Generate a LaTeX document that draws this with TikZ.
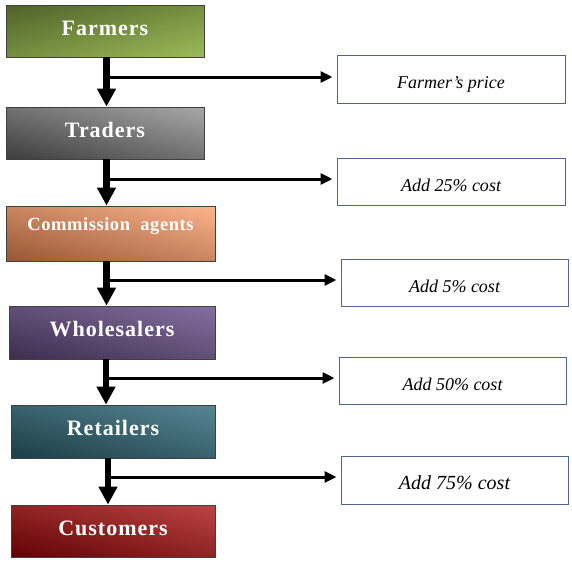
\documentclass[tikz,border=0pt]{standalone}
\usepackage{fontspec}
\setmainfont{Liberation Serif}
\usetikzlibrary{arrows.meta,shadings}
\definecolor{farmD}{HTML}{4F6228}
\definecolor{farmL}{HTML}{9BBB59}
\definecolor{tradD}{HTML}{3C3C3C}
\definecolor{tradL}{HTML}{A8A8A8}
\definecolor{commD}{HTML}{985634}
\definecolor{commL}{HTML}{FCB48C}
\definecolor{wholD}{HTML}{3C2D4E}
\definecolor{wholL}{HTML}{8470A0}
\definecolor{retD}{HTML}{1B3D48}
\definecolor{retL}{HTML}{568692}
\definecolor{custD}{HTML}{620202}
\definecolor{custL}{HTML}{BC4444}
\definecolor{pbox}{HTML}{4F6494}
\begin{document}
\begin{tikzpicture}[x=1pt,y=-1pt,
  stage/.style={draw=black!75, line width=0.8pt, shade, inner sep=0pt,
    text=white, font=\bfseries\fontsize{22}{24}\selectfont\addfontfeatures{LetterSpace=4.5},
    text height=15pt, text depth=7pt},
  gradtl/.style 2 args={upper left=#1, lower right=#2,
    upper right=#1!50!#2, lower left=#1!50!#2},
  gradbl/.style 2 args={lower left=#1, upper right=#2,
    upper left=#1!50!#2, lower right=#1!50!#2},
  pricebox/.style={draw=pbox, line width=1pt, fill=white, inner sep=0pt,
    minimum width=227pt, minimum height=47.5pt,
    font=\itshape\fontsize{18}{20}\selectfont, text height=18pt, text depth=0pt},
  varrow/.style={line width=6.5pt, -{Triangle[width=18pt,length=18pt]}},
  harrow/.style={line width=3pt, -{Triangle[width=11pt,length=12pt]}, shorten >=4pt}
]
\useasboundingbox (0,0) rectangle (572,563);
% stages
\node[stage, gradtl={farmD}{farmL}, minimum width=198pt, minimum height=52pt] (f) at (105,31) {Farmers};
\node[stage, gradbl={tradD}{tradL}, minimum width=198pt, minimum height=52pt] (t) at (105,133) {Traders};
\node[stage, gradbl={commD}{commL}, minimum width=209pt, minimum height=55pt,
  font=\bfseries\fontsize{18.5}{20}\selectfont\addfontfeatures{LetterSpace=3}, text height=10pt, text depth=17pt] (c) at (110.5,233.5) {Commission\ \ agents};
\node[stage, gradbl={wholD}{wholL}, minimum width=206pt, minimum height=53pt] (w) at (112,332.5) {Wholesalers};
\node[stage, gradbl={retD}{retL}, minimum width=204pt, minimum height=53pt] (r) at (113,431.5) {Retailers};
\node[stage, gradbl={custD}{custL}, minimum width=204pt, minimum height=52pt] (u) at (113,531) {Customers};
% price boxes
\node[pricebox, minimum width=228pt] (p1) at (451,79.5) {Farmer’s price};
\node[pricebox, minimum width=228pt] (p2) at (451,182) {Add 25\% cost};
\node[pricebox] (p3) at (454.5,283) {Add 5\% cost};
\node[pricebox] (p4) at (452.5,381) {Add 50\% cost};
\node[pricebox, font=\itshape\fontsize{20}{22}\selectfont] (p5) at (454.5,480.5) {Add 75\% cost};
% vertical arrows
\draw[varrow] ([xshift=1.5pt]f.south) -- ([xshift=1.5pt]f.south |- t.north);
\draw[varrow] ([xshift=1.5pt]t.south) -- ([xshift=1.5pt]t.south |- c.north);
\draw[varrow] ([xshift=-4pt]c.south) -- ([xshift=-4pt]c.south |- w.north);
\draw[varrow] ([xshift=-6pt]w.south) -- ([xshift=-6pt]w.south |- r.north);
\draw[varrow] ([xshift=-5pt]r.south) -- ([xshift=-5pt]r.south |- u.north);
% junctions
\coordinate (j1) at (106.5,77);
\coordinate (j2) at (106.5,179);
\coordinate (j3) at (106.5,280);
\coordinate (j4) at (106,378);
\coordinate (j5) at (108,477);
\draw[harrow] (j1) -- (j1 -| p1.west);
\draw[harrow] (j2) -- (j2 -| p2.west);
\draw[harrow] (j3) -- (j3 -| p3.west);
\draw[harrow] (j4) -- (j4 -| p4.west);
\draw[harrow] (j5) -- (j5 -| p5.west);
\end{tikzpicture}
\end{document}
